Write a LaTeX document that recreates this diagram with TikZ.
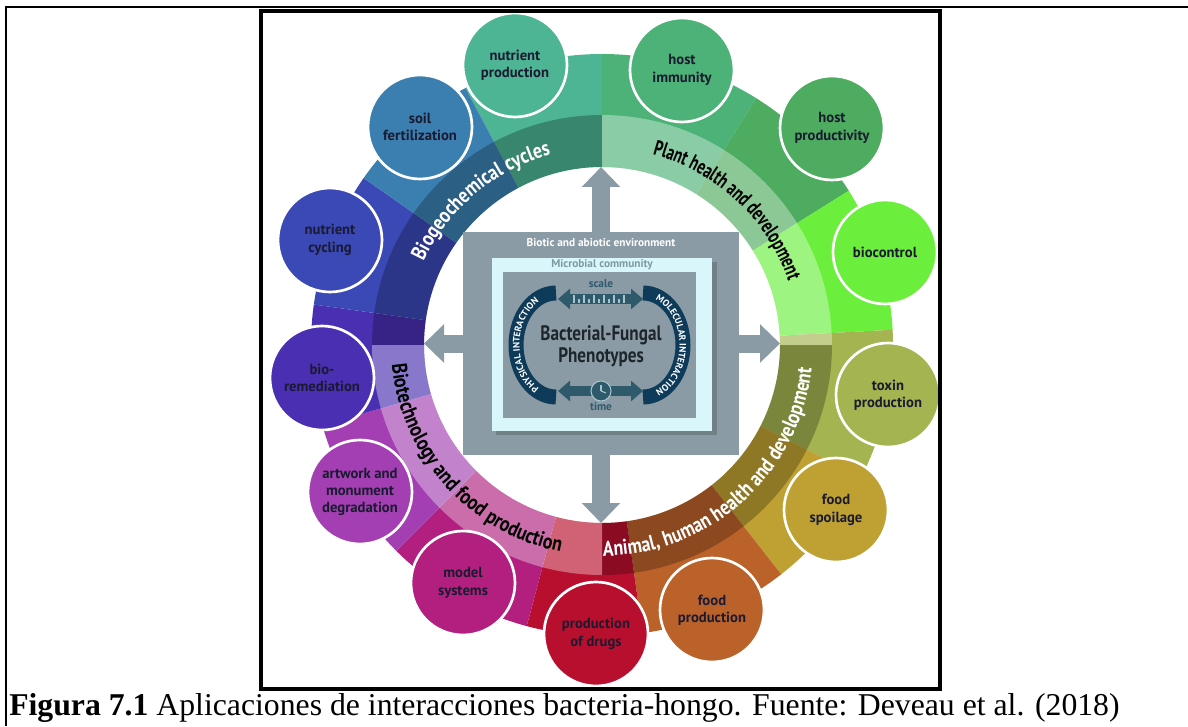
\documentclass[tikz,border=0pt]{standalone}
\usepackage{fontspec}
\setmainfont{Liberation Serif}
\newfontfamily\figfont{PT Sans}
\newfontfamily\condfont[FakeStretch=0.82]{PT Sans}
\newfontfamily\widebandfont[FakeStretch=0.84]{PT Sans}
\newfontfamily\narrowbandfont[FakeStretch=0.70]{PT Sans}
\usetikzlibrary{positioning, calc, arrows.meta, decorations.text}

\newcommand{\bandfont}{\widebandfont\bfseries\fontsize{16}{16}\selectfont}
\newcommand{\plantfont}{\narrowbandfont\bfseries\fontsize{16}{16}\selectfont}
\newcommand{\bracketfont}{\figfont\bfseries\fontsize{7}{7}\selectfont}

\definecolor{envgray}{HTML}{8A9BA5}
\definecolor{commcyan}{HTML}{D9F6FA}
\definecolor{commtext}{HTML}{7D9BA3}
\definecolor{bracketblue}{HTML}{0F3B5A}
\definecolor{scaleblue}{HTML}{2E5A6C}
\definecolor{tickgray}{HTML}{A8C3CC}
\definecolor{bubbletext}{HTML}{1A1A30}
\definecolor{phenotext}{HTML}{1E262C}
\definecolor{cNprod}{HTML}{4DB494}
\definecolor{cHimm}{HTML}{4CB277}
\definecolor{cHprod}{HTML}{4DAC5F}
\definecolor{cBioc}{HTML}{6BEF3C}
\definecolor{cToxin}{HTML}{A3B450}
\definecolor{cSpoil}{HTML}{BEA132}
\definecolor{cFprod}{HTML}{BB622B}
\definecolor{cDrugs}{HTML}{B90F2E}
\definecolor{cModel}{HTML}{B21F7F}
\definecolor{cArt}{HTML}{A33FB2}
\definecolor{cBiorem}{HTML}{4A2FB2}
\definecolor{cNcyc}{HTML}{3B49B6}
\definecolor{cSoil}{HTML}{3B7FB1}

\begin{document}
\begin{tikzpicture}[x=0.75pt, y=0.75pt,
    bubble/.style={circle, minimum size=78pt, inner sep=0pt, draw=white, line width=2pt,
        align=center, text=bubbletext, font=\figfont\bfseries\fontsize{11}{13}\selectfont},
    bigarrow/.style={envgray, line width=13.5pt, -{Triangle[width=28pt,length=15pt]}},
    smallarrow/.style={scaleblue, line width=7.5pt, {Triangle[width=15pt,length=9pt]}-{Triangle[width=15pt,length=9pt]}},
    banddark/.style={fill=black, fill opacity=.25},
    bandlight/.style={fill=white, fill opacity=.35},
    boxlabel/.style={inner sep=0pt, font=\figfont\bfseries\fontsize{8.5}{9}\selectfont}]

    \useasboundingbox (0,0) rectangle (1188,726);
    \coordinate (C) at (602,381);

    % Outer ring, one segment per application
    \foreach \a/\b/\col in {118/90/cNprod, 90/58/cHimm, 58/32/cHprod, 32/3/cBioc,
        3/-27/cToxin, -27/-52/cSpoil, -52/-82/cFprod, -82/-105/cDrugs,
        -105/-135/cModel, -135/-164/cArt, -164/-188/cBiorem, -188/-215/cNcyc, -215/-242/cSoil} {
        \fill[\col] ($(C)+(\a:291)$) arc[start angle=\a, end angle=\b, radius=291]
            -- ($(C)+(\b:178)$) arc[start angle=\b, end angle=\a, radius=178] -- cycle;
    }

    % Label band, darker or lighter per quadrant
    \foreach \a/\b/\tint in {90/180/banddark, 0/90/bandlight, -90/0/banddark, 180/270/bandlight} {
        \path[\tint] ($(C)+(\a:230)$) arc[start angle=\a, end angle=\b, radius=230]
            -- ($(C)+(\b:178)$) arc[start angle=\b, end angle=\a, radius=178] -- cycle;
    }

    % Band titles
    \path[decorate, decoration={text along path, text align=center, text color=white,
        text={|\bandfont|Biogeochemical cycles}}]
        ($(C)+(180:197)$) arc[start angle=180, end angle=80, radius=197];
    \path[decorate, decoration={text along path, text align=center, text color=black,
        text={|\plantfont|Plant health and development}}]
        ($(C)+(97:197)$) arc[start angle=97, end angle=-3, radius=197];
    \path[decorate, decoration={text along path, text align=center, text color=white,
        text={|\bandfont|Animal, human health and development}}]
        ($(C)+(-98:211)$) arc[start angle=-98, end angle=2, radius=211];
    \path[decorate, decoration={text along path, text align=center, text color=black,
        text={|\bandfont|Biotechnology and food production}}]
        ($(C)+(-188:211)$) arc[start angle=-188, end angle=-88, radius=211];

    % Application bubbles
    \foreach \nm/\x/\y/\col/\txt in {
        nprod/515/661/cNprod/{nutrient\\production},
        himm/682/656/cHimm/{host\\immunity},
        hprod/832/598/cHprod/{host\\productivity},
        bioc/885/474/cBioc/{biocontrol},
        toxin/888/331/cToxin/{toxin\\production},
        spoil/836/216/cSpoil/{food\\spoilage},
        fprod/712/116/cFprod/{food\\production},
        drugs/596/92/cDrugs/{production\\of drugs},
        model/463/143/cModel/{model\\systems},
        art/360/234/cArt/{artwork and\\monument\\degradation},
        biorem/322/348/cBiorem/{bio-\\remediation},
        ncyc/330/486/cNcyc/{nutrient\\cycling},
        soil/420/599/cSoil/{soil\\fertilization}} {
        \node[bubble, fill=\col] (\nm) at (\x,\y) {\txt};
    }

    % Environment box and the four arrows
    \node[fill=envgray, minimum width=207pt, minimum height=167.25pt, inner sep=0pt] (env) at (601,382.5) {};
    \coordinate (ringN) at ($(C)+(90:178)$);
    \coordinate (ringS) at ($(C)+(-90:178)$);
    \coordinate (ringW) at ($(C)+(180:178)$);
    \coordinate (ringE) at ($(C)+(0:178)$);
    \draw[bigarrow] (env.north) -- (env.north |- ringN);
    \draw[bigarrow] (env.south) -- (env.south |- ringS);
    \draw[bigarrow] (env.west) -- (env.west -| ringW);
    \draw[bigarrow] (env.east) -- (env.east -| ringE);
    \node[boxlabel, text=white] (envlabel) at (601,483) {Biotic and abiotic environment};

    % Microbial community
    \fill[black, opacity=.18] (496,291) rectangle (717,464);
    \node[fill=commcyan, minimum width=165pt, minimum height=129.75pt, inner sep=0pt] (community) at (602,381.5) {};
    \node[boxlabel, text=commtext] (commlabel) at (602,461) {Microbial community};
    \node[fill=envgray, minimum width=144.75pt, minimum height=109.5pt, inner sep=0pt] (core) at (599.5,381) {};

    % Interaction brackets
    \coordinate (BL) at (556,381);
    \coordinate (BR) at (643,381);
    \draw[bracketblue, line width=11.25pt] ($(BL)+(0,52)$) arc[start angle=90, end angle=270, x radius=40, y radius=52];
    \draw[bracketblue, line width=11.25pt] ($(BR)+(0,52)$) arc[start angle=90, end angle=-90, x radius=40, y radius=52];
    \path[decorate, decoration={text along path, text align=center, text color=white,
        text={|\bracketfont|PHYSICAL INTERACTION}}]
        ($(BL)+({36.5*cos(258)},{48.5*sin(258)})$) arc[start angle=258, end angle=102, x radius=36.5, y radius=48.5];
    \path[decorate, decoration={text along path, text align=center, text color=white,
        text={|\bracketfont|MOLECULAR INTERACTION}}]
        ($(BR)+({36.5*cos(78)},{48.5*sin(78)})$) arc[start angle=78, end angle=-78, x radius=36.5, y radius=48.5];

    % Scale and time
    \node[boxlabel, text=scaleblue, font=\figfont\bfseries\fontsize{8.5}{9}\selectfont] (scalelabel) at (601,442) {scale};
    \coordinate (scaleL) at (558,427);
    \coordinate (scaleR) at (643,427);
    \draw[smallarrow] (scaleL) -- (scaleR);
    \foreach \i in {0,2,...,10}
        \draw[tickgray, line width=0.8pt] (574+\i*5,423) -- ++(0,8);
    \foreach \i in {1,3,...,9}
        \draw[tickgray, line width=0.8pt] (574+\i*5,423) -- ++(0,4.5);

    \node[font=\condfont\bfseries\fontsize{15.7}{16.5}\selectfont, text=phenotext, align=center, inner sep=0pt] (pheno) at (601,380) {Bacterial-Fungal\\Phenotypes};

    \coordinate (timeL) at (558,335);
    \coordinate (timeR) at (643,335);
    \draw[smallarrow] (timeL) -- (timeR);
    \node[circle, draw=tickgray, fill=scaleblue, line width=0.8pt, minimum size=15pt, inner sep=0pt] (clock) at (601,335) {};
    \draw[tickgray, line width=0.8pt] (clock.center) -- ++(0,6);
    \draw[tickgray, line width=0.8pt] (clock.center) -- ++(5,-2);
    \node[boxlabel, text=scaleblue] (timelabel) at (601,319) {time};

    % Frames
    \draw[line width=3pt] (261,37) rectangle (940,715);
    \draw[line width=1.1pt] (6,0) -- (6,719) -- (1188,719);

    % Caption
    \node[anchor=base west, inner sep=0pt, font=\fontsize{23.8}{26}\selectfont] (caption) at (9,11)
        {\textbf{Figura 7.1} Aplicaciones de interacciones bacteria-hongo. Fuente: Deveau et al. (2018)};
\end{tikzpicture}
\end{document}
